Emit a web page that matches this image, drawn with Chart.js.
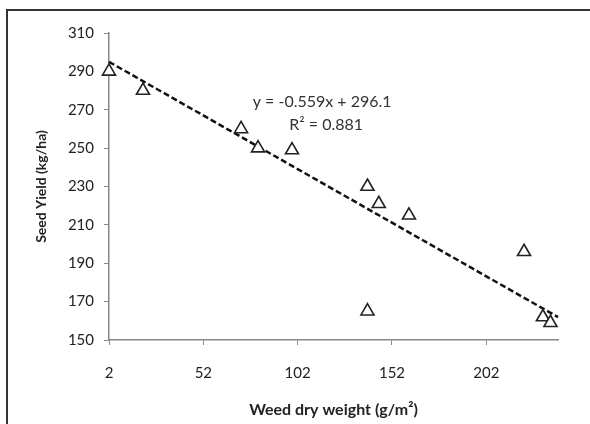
<!DOCTYPE html>
<html lang="en">
<head>
    <meta charset="utf-8" />
    <title>Seed yield vs weed dry weight</title>
    <script src="https://cdn.jsdelivr.net/npm/chart.js"></script>
    <style>
        body {
            margin: 0;
            background: #fff;
            overflow: hidden;
        }

        /* frame around the figure, only left and top edges are visible */
        .frame {
            position: absolute;
            left: 6px;
            top: 9px;
            width: 620px;
            height: 440px;
            border: 2px solid #333;
        }

        .wrap {
            position: absolute;
            left: 0;
            top: 0;
            width: 590px;
            height: 424px;
        }
    </style>
</head>
<body>
    <div class="frame"></div>
    <div class="wrap">
        <canvas id="myChart" width="590" height="424"></canvas>
    </div>
    <script>
        // Weed dry weight (g/m2) and seed yield (kg/ha)
        const weedWeight = [2, 20, 72, 81, 99, 139, 145, 161, 222, 139, 232, 236];
        const seedYield = [290, 280, 260, 250, 249, 230, 221, 215, 196, 165, 162, 159];

        // fitted trendline y = slope * x + intercept
        const slope = -0.559;
        const intercept = 296.1;
        const trendRange = [2, 240];

        const xTicks = [2, 52, 102, 152, 202];
        const yTicks = [150, 170, 190, 210, 230, 250, 270, 290, 310];

        const eqLabel = ['y = -0.559x + 296.1', 'R\u00b2 = 0.881'];

        const fontName = 'Lato, "Liberation Sans", sans-serif';

        // writes the regression equation next to the line
        const equationText = {
            id: 'equationText',
            afterDatasetsDraw(chart) {
                const ctx = chart.ctx;
                const x = chart.scales.x.getPixelForValue(115);
                const y = chart.scales.y.getPixelForValue(274);
                ctx.save();
                ctx.fillStyle = '#333';
                ctx.font = '16px ' + fontName;
                ctx.textAlign = 'center';
                ctx.textBaseline = 'middle';
                ctx.fillText(eqLabel[0], x, y);
                ctx.fillText(eqLabel[1], x + 4, y + 23);
                ctx.restore();
            }
        };

        const ctx = document.getElementById('myChart').getContext('2d');
        const myChart = new Chart(ctx, {
            type: 'scatter',
            data: {
                datasets: [{
                    data: weedWeight.map((w, i) => ({ x: w, y: seedYield[i] })),
                    pointStyle: 'triangle',
                    pointRadius: 7.5,
                    pointBorderWidth: 1.6,
                    pointBorderColor: '#222',
                    pointBackgroundColor: '#fff',
                    showLine: false,
                    clip: false
                }, {
                    type: 'line',
                    data: trendRange.map(v => ({ x: v, y: slope * v + intercept })),
                    borderColor: '#111',
                    borderWidth: 2.5,
                    borderDash: [6, 3],
                    pointRadius: 0,
                    fill: false,
                    clip: false
                }]
            },
            options: {
                responsive: false,
                animation: false,
                layout: {
                    padding: { left: 0, right: 32, top: 33, bottom: 0 }
                },
                plugins: {
                    legend: { display: false },
                    tooltip: { enabled: false }
                },
                scales: {
                    x: {
                        type: 'linear',
                        min: 2,
                        max: 240,
                        afterBuildTicks: scale => {
                            scale.ticks = xTicks.map(v => ({ value: v }));
                        },
                        afterFit: scale => {
                            scale.height = 84;
                        },
                        grid: {
                            drawOnChartArea: false,
                            drawTicks: true,
                            tickLength: 5,
                            color: '#888'
                        },
                        border: { color: '#888', width: 1.5 },
                        ticks: {
                            padding: 19,
                            color: '#222',
                            font: { family: fontName, size: 15 }
                        },
                        title: {
                            display: true,
                            text: 'Weed dry weight (g/m\u00b2)',
                            color: '#222',
                            padding: { bottom: 5 },
                            font: { family: fontName, size: 16, weight: 'bold' }
                        }
                    },
                    y: {
                        min: 150,
                        max: 310,
                        afterBuildTicks: scale => {
                            scale.ticks = yTicks.map(v => ({ value: v }));
                        },
                        afterFit: scale => {
                            scale.width = 109;
                        },
                        grid: {
                            drawOnChartArea: false,
                            drawTicks: true,
                            tickLength: 5,
                            color: '#888'
                        },
                        border: { color: '#888', width: 1.5 },
                        ticks: {
                            padding: 10,
                            color: '#222',
                            font: { family: fontName, size: 15 }
                        },
                        title: {
                            display: true,
                            text: 'Seed Yield (kg/ha)',
                            color: '#222',
                            padding: { top: 33 },
                            font: { family: fontName, size: 14, weight: 'bold' }
                        }
                    }
                }
            },
            plugins: [equationText]
        });
    </script>
</body>
</html>
